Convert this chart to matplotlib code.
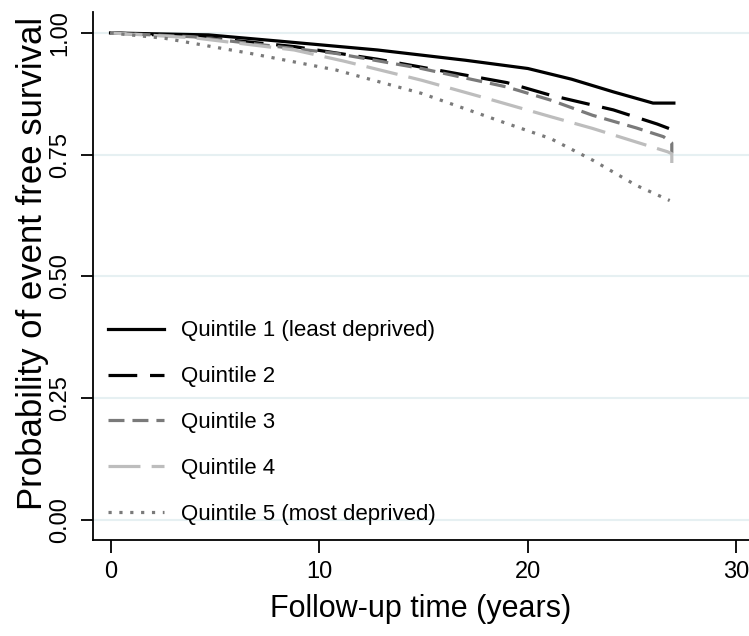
import matplotlib.pyplot as plt
import numpy as np

plt.rcParams['font.family'] = ['Liberation Sans', 'DejaVu Sans']

# ======================
# DATA
# ======================

labels = [
    'Quintile 1 (least deprived)',
    'Quintile 2',
    'Quintile 3',
    'Quintile 4',
    'Quintile 5 (most deprived)',
]

t_q1 = [0, 4.7, 8.4, 12.8, 17.0, 20.0, 22.1, 24.1, 26.0, 27.0]
s_q1 = [1.0, 0.996, 0.982, 0.965, 0.944, 0.927, 0.905, 0.879, 0.856, 0.856]

t_q2 = [0, 4.0, 8.8, 12.8, 15.9, 19.0, 21.1, 24.1, 26.2, 27.0]
s_q2 = [1.0, 0.993, 0.972, 0.946, 0.922, 0.898, 0.872, 0.842, 0.813, 0.800]

t_q3 = [0, 4.0, 10.8, 14.9, 19.0, 21.1, 23.1, 25.2, 26.5, 26.9, 26.9]
s_q3 = [1.0, 0.992, 0.958, 0.927, 0.889, 0.862, 0.831, 0.805, 0.787, 0.774, 0.753]

t_q4 = [0, 4.0, 8.8, 11.2, 14.9, 18.0, 21.1, 23.1, 25.2, 26.7, 26.9, 26.9]
s_q4 = [1.0, 0.990, 0.965, 0.942, 0.903, 0.866, 0.828, 0.804, 0.776, 0.756, 0.752, 0.733]

t_q5 = [0, 2.6, 6.7, 10.8, 14.9, 19.0, 21.1, 23.1, 25.2, 26.8]
s_q5 = [1.0, 0.989, 0.958, 0.924, 0.876, 0.814, 0.783, 0.739, 0.687, 0.656]

y_ticks = [0.0, 0.25, 0.5, 0.75, 1.0]
y_tick_labels = ['0.00', '0.25', '0.50', '0.75', '1.00']
x_ticks = [0, 10, 20, 30]

# ======================
# PLOT
# ======================

fig = plt.figure(
    figsize=(7.49, 6.36),
    dpi=100
)

# axes box in pixels: left spine x=93, bottom spine y=540, top y=12
ax = fig.add_axes([93 / 749, 1 - 540 / 636, 1 - 93 / 749, (540 - 12) / 636])

for y in y_ticks:
    ax.axhline(y, color='#e6f0f2', linewidth=1.5, zorder=0)

ax.plot(t_q1, s_q1, color='black', linewidth=2.3,
        linestyle='-', label=labels[0])
ax.plot(t_q2, s_q2, color='black', linewidth=2.3,
        linestyle=(0, (9, 4)), label=labels[1])
ax.plot(t_q3, s_q3, color='#7a7a7a', linewidth=2.3,
        linestyle=(0, (5, 2.5)), label=labels[2])
ax.plot(t_q4, s_q4, color='#bdbdbd', linewidth=2.3,
        linestyle=(0, (10, 3.5)), label=labels[3])
ax.plot(t_q5, s_q5, color='#7a7a7a', linewidth=2.3,
        linestyle=(0, (1, 2.4)), label=labels[4])

ax.set_xlim(-0.84, 30.6)
ax.set_ylim(-0.041, 1.043)

ax.set_xticks(x_ticks)
ax.set_yticks(y_ticks)
ax.set_yticklabels(y_tick_labels, rotation=90, va='center')

ax.tick_params(axis='both', direction='out', length=9, width=1.3,
               colors='black')
ax.tick_params(axis='x', labelsize=17, pad=6)
ax.tick_params(axis='y', labelsize=17, pad=7)

ax.spines['top'].set_visible(False)
ax.spines['right'].set_visible(False)
ax.spines['left'].set_linewidth(1.3)
ax.spines['bottom'].set_linewidth(1.3)

ax.set_xlabel('Follow-up time (years)', fontsize=22, labelpad=8)
ax.set_ylabel('Probability of event free survival', fontsize=25)
ax.yaxis.set_label_coords(-0.067, 0.523)

ax.legend(
    loc='lower left',
    bbox_to_anchor=(108 / 749, 111 / 636),
    bbox_transform=fig.transFigure,
    frameon=False,
    fontsize=16,
    handlelength=2.5,
    handletextpad=0.8,
    labelspacing=1.12,
    borderpad=0,
    borderaxespad=0
)

plt.savefig(
    'out.png',
    dpi=100
)

plt.close()
